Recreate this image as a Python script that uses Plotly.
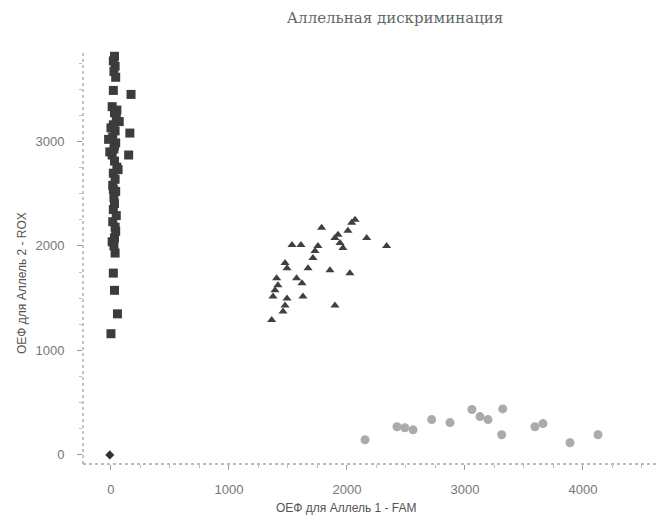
import plotly.graph_objects as go

# Allele 2 homozygotes (squares)
sq_x = [30, 20, 35, 25, 40, 20, 170, 10, 30, 45, 20, 160, 35, 15, 40, 150, 25,
        10, 30, 50, 20, 35, 15, 40, 25, 30, 20, 45, 15, 30, 25, 35, 20, 30, 55, 0, 35, 20, 30,
        -20, 70, -10, 60, 0, 50, 40, 10]
sq_y = [3815, 3770, 3720, 3670, 3614, 3488, 3450, 3333, 3275, 3217, 3159, 3080, 3101, 3043, 2986, 2870, 2928,
        2870, 2812, 2754, 2696, 2638, 2580, 2522, 2464, 2406, 2348, 2290, 2232, 2077, 2000, 1932, 1740, 1575, 1350, 1160, 2180, 2540, 2960,
        3020, 3190, 2900, 2730, 3130, 3300, 2140, 2040]

# Heterozygotes (triangles)
tr_x = [1785, 2040, 2008, 2068, 1898, 1941, 1966, 1924, 2167, 2336, 1534, 1610, 1729, 1712, 1754,
        1670, 1475, 1492, 1573, 1619, 1404, 1415, 1390, 1373, 1856, 2025, 1627, 1898, 1475, 1458, 1492, 1362]
tr_y = [2174, 2222, 2145, 2251, 2077, 2029, 1981, 2106, 2077, 2000, 2010, 2010, 1952, 1884, 2000,
        1787, 1836, 1787, 1690, 1643, 1690, 1623, 1575, 1517, 1768, 1739, 1517, 1430, 1430, 1372, 1498, 1290]

# Allele 1 homozygotes (circles)
ci_x = [2153, 2424, 2490, 2560, 2718, 2873, 3059, 3127, 3195, 3320, 3311, 3593, 3661, 3890, 4127]
ci_y = [145, 270, 260, 240, 338, 309, 435, 367, 338, 440, 193, 270, 300, 116, 193]

# No template control
ntc_x = [-10]
ntc_y = [0]

x_ticks = [0, 1000, 2000, 3000, 4000]
y_ticks = [0, 1000, 2000, 3000]

title_text = "Аллельная дискриминация"
x_title = "ОЕФ для Аллель 1 - FAM"
y_title = "ОЕФ для Аллель 2 - ROX"

fig = go.Figure()
fig.add_trace(go.Scatter(x=sq_x, y=sq_y, mode="markers",
                         marker=dict(symbol="square", size=9, color="#3c3c3c"), showlegend=False))
fig.add_trace(go.Scatter(x=tr_x, y=tr_y, mode="markers",
                         marker=dict(symbol="triangle-up", size=8, color="#404040"), showlegend=False))
fig.add_trace(go.Scatter(x=ci_x, y=ci_y, mode="markers",
                         marker=dict(symbol="circle", size=9, color="#ababab"), showlegend=False))
fig.add_trace(go.Scatter(x=ntc_x, y=ntc_y, mode="markers",
                         marker=dict(symbol="diamond", size=7, color="#333333"), showlegend=False))

tick_font = dict(family="Liberation Sans", size=13, color="#777777")
label_font = dict(family="Liberation Sans", size=12, color="#555555")

# page body adds an 8px offset; margins compensate so the plot lands where the reference has it
fig.update_layout(
    width=667, height=528,
    margin=dict(l=75, r=8, t=42, b=72),
    paper_bgcolor="white", plot_bgcolor="white",
    title=dict(text=title_text, x=387 / 667, xanchor="center", y=1 - 10 / 528, yanchor="middle",
               font=dict(family="DejaVu Serif", size=15, color="#666666")),
    xaxis=dict(range=[-237, 4712], tickvals=x_ticks, ticktext=[str(v) for v in x_ticks],
               showgrid=False, zeroline=False, showline=False, automargin=False,
               ticks="outside", ticklen=5, tickcolor="#999999", tickfont=tick_font,
               ticklabelstandoff=8,
               minor=dict(dtick=250, ticks="outside", ticklen=3, tickcolor="#bbbbbb")),
    yaxis=dict(range=[-87, 3875], tickvals=y_ticks, ticktext=[str(v) for v in y_ticks],
               showgrid=False, zeroline=False, showline=False, automargin=False,
               ticks="outside", ticklen=5, tickcolor="#999999", tickfont=tick_font,
               ticklabelstandoff=10,
               minor=dict(dtick=250, ticks="outside", ticklen=3, tickcolor="#bbbbbb")),
    shapes=[
        dict(type="line", xref="paper", yref="paper", x0=0, x1=1, y0=0, y1=0,
             line=dict(color="#777777", width=1, dash="dot")),
        dict(type="line", xref="paper", yref="paper", x0=0, x1=0, y0=0, y1=1,
             line=dict(color="#888888", width=1, dash="dot")),
    ],
    annotations=[
        dict(text=x_title, xref="paper", yref="paper",
             x=(346 - 83) / 584, y=-(508 - 464) / 414, xanchor="center", yanchor="middle",
             showarrow=False, font=label_font),
        dict(text=y_title, xref="paper", yref="paper", textangle=-90,
             x=-(83 - 22) / 584, y=(464 - 283) / 414, xanchor="center", yanchor="middle",
             showarrow=False, font=label_font),
    ],
)

fig.write_html("out.html")
